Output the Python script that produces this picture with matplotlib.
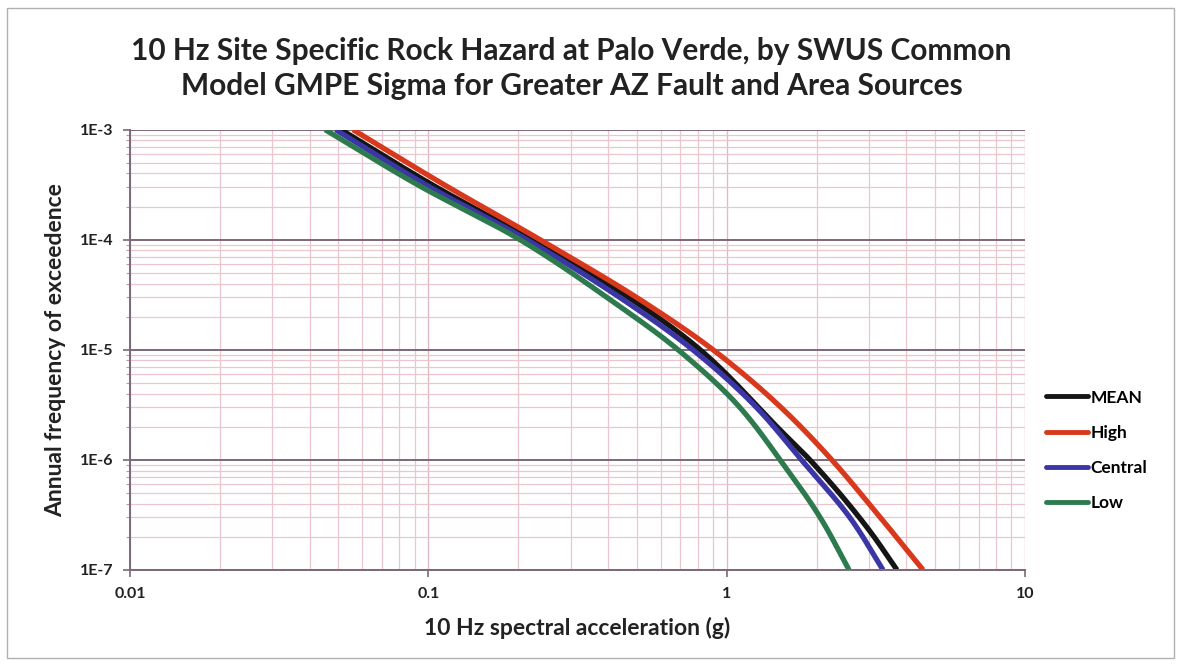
import numpy as np
import matplotlib
matplotlib.use("Agg")
import matplotlib.pyplot as plt
from matplotlib.patches import Rectangle
from matplotlib.ticker import LogLocator, FixedLocator, NullFormatter

# Hazard curves: spectral acceleration (g) vs annual frequency of exceedance
mean_x = [0.051, 0.103, 0.222, 0.482, 0.815, 1.53, 1.90, 3.00, 3.72]
mean_y = [1e-3, 3.16e-4, 1e-4, 2.85e-5, 1e-5, 1.8e-6, 1e-6, 2.3e-7, 1e-7]

high_x = [0.0559, 0.113, 0.237, 0.513, 0.90, 1.51, 2.25, 3.02, 4.55]
high_y = [1e-3, 3.16e-4, 1e-4, 2.85e-5, 1e-5, 3.05e-6, 1e-6, 3.9e-7, 1e-7]

central_x = [0.0489, 0.098, 0.214, 0.450, 0.77, 1.25, 1.78, 2.62, 3.34]
central_y = [1e-3, 3.16e-4, 1e-4, 2.85e-5, 1e-5, 3.05e-6, 1e-6, 2.85e-7, 1e-7]

low_x = [0.0451, 0.092, 0.203, 0.407, 0.687, 1.10, 1.51, 2.08, 2.57]
low_y = [1e-3, 3.16e-4, 1e-4, 2.85e-5, 1e-5, 3.05e-6, 1e-6, 2.85e-7, 1e-7]

series = [
    ("MEAN", mean_x, mean_y, "#151515"),
    ("High", high_x, high_y, "#d8381c"),
    ("Central", central_x, central_y, "#3b36a6"),
    ("Low", low_x, low_y, "#2d7a4f"),
]

x_ticks = [0.01, 0.1, 1, 10]
x_tick_labels = ["0.01", "0.1", "1", "10"]
y_ticks = [1e-7, 1e-6, 1e-5, 1e-4, 1e-3]
y_tick_labels = ["1E-7", "1E-6", "1E-5", "1E-4", "1E-3"]

title = ("10 Hz Site Specific Rock Hazard at Palo Verde, by SWUS Common\n"
         "Model GMPE Sigma for Greater AZ Fault and Area Sources")
x_label = "10 Hz spectral acceleration (g)"
y_label = "Annual frequency of exceedence"


def smooth_loglog(xs, ys, n=300):
    """Monotone cubic (PCHIP) through the points, log10(x) as a function of -log10(y)."""
    u = -np.log10(np.asarray(ys, float))
    v = np.log10(np.asarray(xs, float))
    h = np.diff(u)
    d = np.diff(v) / h
    m = np.zeros_like(v)
    for k in range(1, len(v) - 1):
        if d[k - 1] * d[k] > 0:
            w1 = 2 * h[k] + h[k - 1]
            w2 = h[k] + 2 * h[k - 1]
            m[k] = (w1 + w2) / (w1 / d[k - 1] + w2 / d[k])
    m[0] = d[0]
    m[-1] = d[-1]
    uu = np.linspace(u[0], u[-1], n)
    idx = np.clip(np.searchsorted(u, uu) - 1, 0, len(h) - 1)
    t = (uu - u[idx]) / h[idx]
    h00 = 2 * t ** 3 - 3 * t ** 2 + 1
    h10 = t ** 3 - 2 * t ** 2 + t
    h01 = -2 * t ** 3 + 3 * t ** 2
    h11 = t ** 3 - t ** 2
    vv = h00 * v[idx] + h10 * h[idx] * m[idx] + h01 * v[idx + 1] + h11 * h[idx] * m[idx + 1]
    return 10 ** vv, 10 ** (-uu)


plt.rcParams["font.family"] = ["Lato", "DejaVu Sans"]

fig = plt.figure(figsize=(11.81, 6.65), dpi=100)
fig.patches.append(Rectangle((0.006, 0.01), 0.988, 0.978, transform=fig.transFigure,
                             fill=False, edgecolor="#b0b0b0", linewidth=1.0))

ax = fig.add_axes([0.110, 0.143, 0.758, 0.662])
ax.set_xscale("log")
ax.set_yscale("log")
ax.set_xlim(0.01, 10)
ax.set_ylim(1e-7, 1e-3)

# grid: pink minor lines, dark major horizontals
ax.xaxis.set_minor_locator(LogLocator(base=10, subs=range(2, 10)))
ax.yaxis.set_minor_locator(LogLocator(base=10, subs=range(2, 10)))
ax.grid(which="minor", axis="both", color="#ecc6cf", linewidth=0.9)
ax.grid(which="major", axis="x", color="#e3b9c3", linewidth=1.0)
ax.grid(which="major", axis="y", color="#7c6878", linewidth=1.4)
ax.set_axisbelow(True)

for label, xs, ys, color in series:
    sx, sy = smooth_loglog(xs, ys)
    ax.plot(sx, sy, color=color, linewidth=3.8, label=label,
            solid_capstyle="butt", solid_joinstyle="round")

ax.xaxis.set_major_locator(FixedLocator(x_ticks))
ax.set_xticklabels(x_tick_labels)
ax.yaxis.set_major_locator(FixedLocator(y_ticks))
ax.set_yticklabels(y_tick_labels)
ax.xaxis.set_minor_formatter(NullFormatter())
ax.yaxis.set_minor_formatter(NullFormatter())

for s in ["top", "right"]:
    ax.spines[s].set_visible(False)
for s in ["left", "bottom"]:
    ax.spines[s].set_color("#7c6878")
    ax.spines[s].set_linewidth(1.4)

ax.tick_params(which="major", direction="out", length=5, width=1.2, color="#7c6878",
               labelsize=11.5, pad=7)
ax.tick_params(axis="x", which="minor", length=0)
ax.tick_params(axis="y", which="minor", direction="out", length=3, width=0.8, color="#b89aa6")
for t in ax.get_xticklabels() + ax.get_yticklabels():
    t.set_fontweight("bold")
    t.set_color("#222222")

ax.set_xlabel(x_label, fontsize=16.5, fontweight="bold", color="#222222", labelpad=12)
ax.set_ylabel(y_label, fontsize=16.5, fontweight="bold", color="#222222", labelpad=10)

fig.text(0.484, 0.897, title, ha="center", va="center", fontsize=21.5,
         fontweight="bold", color="#222222", linespacing=1.3)

leg = ax.legend(loc="center left", bbox_to_anchor=(1.006, 0.272), frameon=False,
                handlelength=2.4, handletextpad=0.15, labelspacing=1.1,
                prop={"weight": "bold", "size": 12.5})
for line in leg.get_lines():
    line.set_linewidth(3.5)
    line.set_solid_capstyle("round")

fig.savefig("out.png", dpi=100)
